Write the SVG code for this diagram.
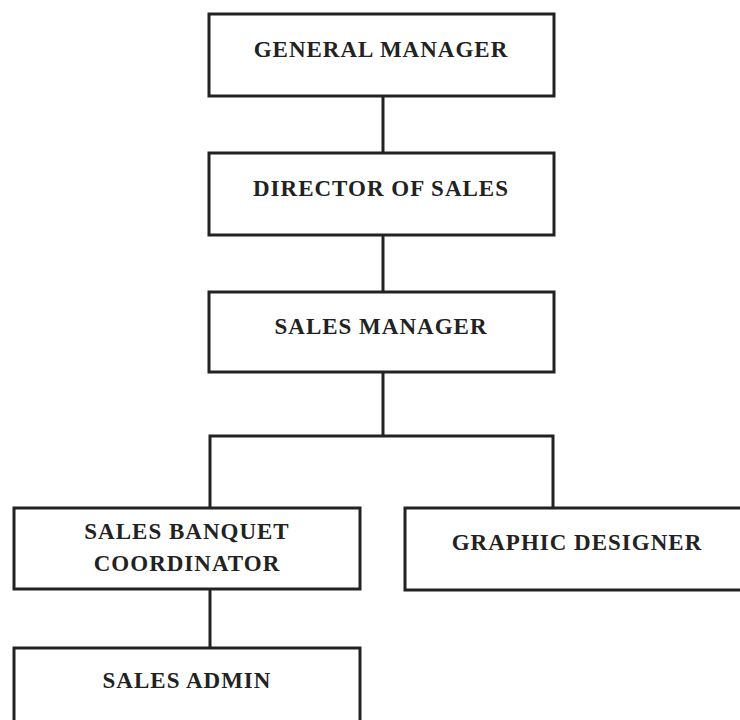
<svg xmlns="http://www.w3.org/2000/svg" width="740" height="720" viewBox="0 0 740 720">
<style>
.box{fill:#fff;stroke:#222;stroke-width:3}
.lbl{font-family:"Liberation Serif","Times New Roman",serif;font-weight:bold;font-size:23px;letter-spacing:1px;fill:#222;text-anchor:middle}
.conn{fill:none;stroke:#222;stroke-width:3}
</style>
<rect width="740" height="720" fill="#fff"/>
<g id="connectors">
<line class="conn" x1="383" y1="96" x2="383" y2="153"/>
<line class="conn" x1="383" y1="235" x2="383" y2="292"/>
<line class="conn" x1="383" y1="372" x2="383" y2="436"/>
<polyline class="conn" points="210,508 210,436 553,436 553,508"/>
<line class="conn" x1="210" y1="589" x2="210" y2="648"/>
</g>
<g id="general-manager">
<rect class="box" x="209" y="14" width="345" height="82"/>
<text class="lbl" x="381" y="57">GENERAL MANAGER</text>
</g>
<g id="director-of-sales">
<rect class="box" x="209" y="153" width="345" height="82"/>
<text class="lbl" x="381" y="196">DIRECTOR OF SALES</text>
</g>
<g id="sales-manager">
<rect class="box" x="209" y="292" width="345" height="80"/>
<text class="lbl" x="381" y="334">SALES MANAGER</text>
</g>
<g id="sales-banquet-coordinator">
<rect class="box" x="14" y="508" width="346" height="81"/>
<text class="lbl" x="187" y="539">SALES BANQUET</text>
<text class="lbl" x="187" y="571">COORDINATOR</text>
</g>
<g id="graphic-designer">
<rect class="box" x="405" y="508" width="340" height="82"/>
<text class="lbl" x="577" y="550">GRAPHIC DESIGNER</text>
</g>
<g id="sales-admin">
<rect class="box" x="14" y="648" width="346" height="85"/>
<text class="lbl" x="187" y="688">SALES ADMIN</text>
</g>
</svg>
